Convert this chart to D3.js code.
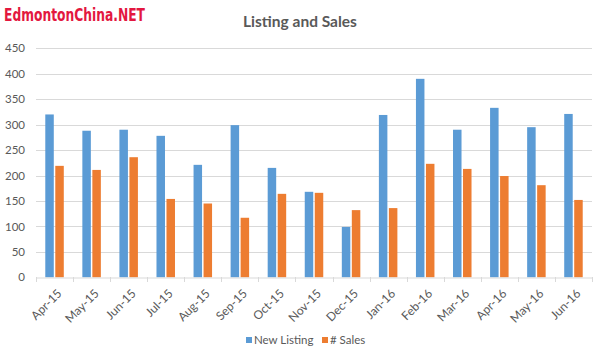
<!DOCTYPE html>
<html><head><meta charset="utf-8">
<script src="https://cdn.jsdelivr.net/npm/d3@7"></script>
<style>body{margin:0;background:#fff}svg{display:block}</style>
</head><body>
<svg id="c" width="606" height="361"></svg>
<script>
const categories = ["Apr-15","May-15","Jun-15","Jul-15","Aug-15","Sep-15","Oct-15","Nov-15","Dec-15","Jan-16","Feb-16","Mar-16","Apr-16","May-16","Jun-16"];
const newListing = [320,288,290,278,221,299,215,168,99,319,390,290,333,295,321];
const sales = [219,211,236,154,145,117,164,166,132,136,223,213,199,181,152];
const seriesNames = ["New Listing","# Sales"];
const colors = ["#5b9bd5","#ed7d31"];
const yTicks = [0,50,100,150,200,250,300,350,400,450];

const svg = d3.select("#c");
const font = "Lato, 'Open Sans', sans-serif";
const m = {l:36, r:592, t:48.3, b:277.3};
const x = d3.scaleBand().domain(categories).range([m.l, m.r]).padding(0);
const y = d3.scaleLinear().domain([0,450]).range([m.b, m.t]);

// watermark
svg.append("text").attr("x",4).attr("y",21).text("EdmontonChina.NET")
  .attr("font-family","'DejaVu Sans Condensed','Liberation Sans Narrow',sans-serif").attr("font-weight","bold")
  .attr("font-size",17).attr("fill","#e3173f").attr("textLength",141).attr("lengthAdjust","spacingAndGlyphs");

// title
svg.append("text").attr("x",300).attr("y",27).attr("text-anchor","middle")
  .attr("font-family",font).attr("font-size",15.5).attr("font-weight","bold").attr("fill","#595959")
  .text("Listing and Sales");

// grid
svg.append("g").selectAll("line").data(yTicks.slice(1)).join("line")
  .attr("x1",m.l).attr("x2",m.r).attr("y1",d=>Math.round(y(d))+0.5).attr("y2",d=>Math.round(y(d))+0.5)
  .attr("stroke","#d9d9d9").attr("stroke-width",1);

// y axis labels
const ya = svg.append("g").attr("transform",`translate(${m.l},0)`)
  .call(d3.axisLeft(y).tickValues(yTicks).tickSize(0).tickPadding(11));
ya.select(".domain").remove();
ya.selectAll("text").attr("font-family",font).attr("font-size",11.5).attr("fill","#595959");

// bars
const bw = 8.5, gap = 1.5;
const gBars = svg.append("g");
[newListing, sales].forEach((vals, si) => {
  gBars.append("g").selectAll("rect").data(vals).join("rect")
    .attr("x",(d,i)=> x(categories[i]) + x.bandwidth()/2 + (si===0 ? -(bw+gap/2) : gap/2))
    .attr("width",bw)
    .attr("y",d=>y(d)).attr("height",d=>y(0)-y(d))
    .attr("fill",colors[si]);
});

// x axis
const xa = svg.append("g").attr("transform",`translate(0,${Math.round(m.b)+0.5})`)
  .call(d3.axisBottom(x).tickSize(0).tickFormat(""));
xa.select(".domain").attr("stroke","#d9d9d9");
const tickPos = categories.map(c=>x(c)).concat([m.r]);
svg.append("g").selectAll("line").data(tickPos).join("line")
  .attr("x1",d=>Math.round(d)+0.5).attr("x2",d=>Math.round(d)+0.5)
  .attr("y1",Math.round(m.b)).attr("y2",Math.round(m.b)+5)
  .attr("stroke","#d9d9d9");
svg.append("g").selectAll("text").data(categories).join("text")
  .attr("transform",d=>`translate(${x(d)+x.bandwidth()/2+5},${m.b+14}) rotate(-45)`)
  .attr("text-anchor","end").attr("dy","0.35em")
  .attr("font-family",font).attr("font-size",12).attr("fill","#595959")
  .text(d=>d);

// legend
const leg = svg.append("g");
const legItems = [{x:246, tx:254},{x:322, tx:330}];
seriesNames.forEach((n,i)=>{
  leg.append("rect").attr("x",legItems[i].x).attr("y",337).attr("width",6).attr("height",6).attr("fill",colors[i]);
  leg.append("text").attr("x",legItems[i].tx).attr("y",340).attr("dy","0.35em")
    .attr("font-family",font).attr("font-size",11.5).attr("fill","#595959").text(n);
});
</script>
</body></html>
